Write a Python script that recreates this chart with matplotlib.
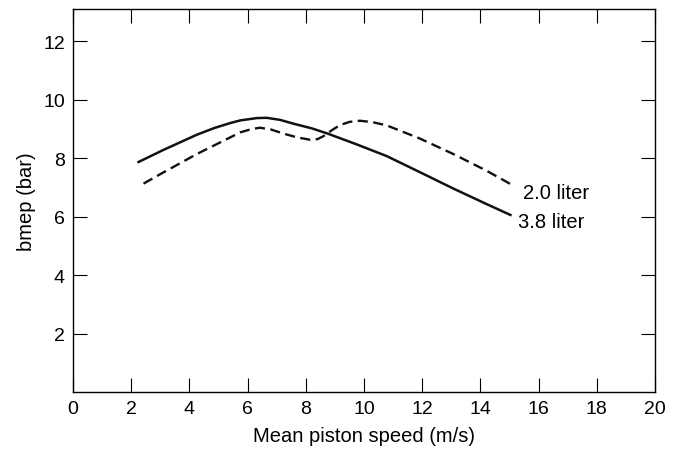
import matplotlib
matplotlib.use("Agg")
import matplotlib.pyplot as plt

plt.rcParams['font.family'] = ['Liberation Sans', 'DejaVu Sans']

# 3.8 liter engine (solid)
speed_38 = [2.21, 3.10, 4.25, 4.85, 5.40, 5.74, 6.31, 6.65, 7.11, 7.57, 8.20, 8.72, 9.75, 10.78, 11.92, 13.07, 14.21, 15.07]
bmep_38 = [7.85, 8.28, 8.80, 9.03, 9.20, 9.29, 9.37, 9.38, 9.31, 9.18, 9.02, 8.85, 8.47, 8.07, 7.52, 6.96, 6.43, 6.04]

# 2.0 liter engine (dashed)
speed_20 = [2.42, 3.10, 4.25, 5.40, 5.74, 6.15, 6.43, 6.80, 7.23, 7.70, 8.14, 8.40, 8.60, 8.90, 9.17, 9.50, 9.86, 10.30, 10.78, 11.92, 13.07, 14.21, 15.15]
bmep_20 = [7.13, 7.51, 8.14, 8.71, 8.88, 9.00, 9.04, 8.98, 8.84, 8.71, 8.63, 8.65, 8.75, 8.96, 9.13, 9.24, 9.28, 9.23, 9.12, 8.67, 8.14, 7.57, 7.05]

xticks = [0, 2, 4, 6, 8, 10, 12, 14, 16, 18, 20]
yticks = [2, 4, 6, 8, 10, 12]

fig = plt.figure(figsize=(6.77, 4.56), dpi=100)
ax = fig.add_axes([0.108, 0.138, 0.8595, 0.84])

ax.plot(speed_38, bmep_38, color='#111111', lw=1.8, solid_capstyle='butt', solid_joinstyle='round')
ax.plot(speed_20, bmep_20, color='#111111', lw=1.7, linestyle=(0, (4.3, 2.3)))

ax.text(15.45, 6.84, '2.0 liter', fontsize=14.5, va='center', ha='left')
ax.text(15.3, 5.84, '3.8 liter', fontsize=14.5, va='center', ha='left')

ax.set_xlim(0, 20)
ax.set_ylim(0, 13.1)
ax.set_xticks(xticks)
ax.set_yticks(yticks)
ax.tick_params(direction='in', length=10, width=0.8, top=True, right=True, labelsize=14, pad=6)

for s in ax.spines.values():
    s.set_linewidth(1.0)

ax.set_xlabel('Mean piston speed (m/s)', fontsize=14.5, labelpad=6)
ax.set_ylabel('bmep (bar)', fontsize=14.5, labelpad=5)

fig.savefig('out.png', dpi=100)
